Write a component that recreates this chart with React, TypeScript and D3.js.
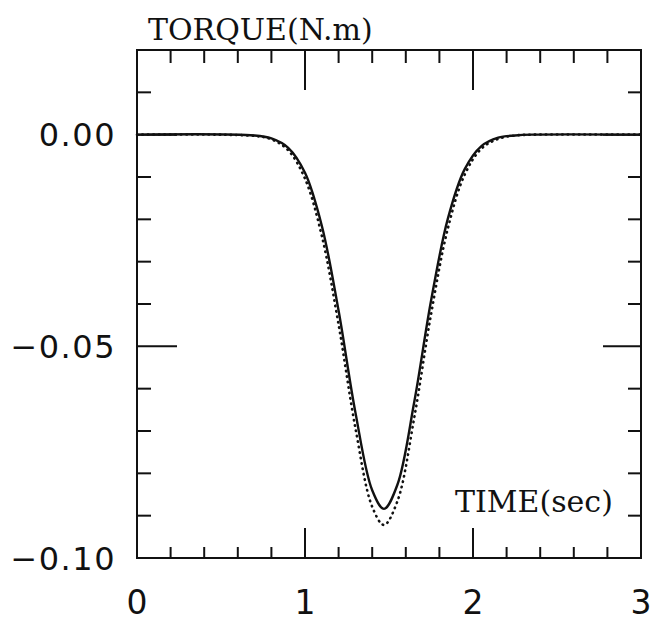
import React from "react";
import * as d3 from "d3";

// Time (sec) sample points
const timeSolid = [0, 0.7, 0.8, 0.9, 1.0, 1.1, 1.2, 1.3, 1.4, 1.47, 1.55, 1.65, 1.75, 1.85, 1.95, 2.05, 2.15, 2.25, 2.35, 3.0];
// Solid curve torque (N.m)
const torqueSolid = [0, -0.0002, -0.0009, -0.0031, -0.0090, -0.0215, -0.0416, -0.0656, -0.0840, -0.0884, -0.0827, -0.0632, -0.0393, -0.0199, -0.0082, -0.0027, -0.0007, -0.0002, 0, 0];
// Dotted curve torque (N.m)
const timeDotted = [0, 0.7, 0.8, 0.9, 1.0, 1.1, 1.2, 1.3, 1.4, 1.47, 1.55, 1.65, 1.75, 1.85, 1.95, 2.05, 2.15, 2.25, 2.35, 3.0];
const torqueDotted = [0, -0.0003, -0.0011, -0.0037, -0.0104, -0.0239, -0.0449, -0.0693, -0.0879, -0.0922, -0.0866, -0.0669, -0.0425, -0.0222, -0.0095, -0.0033, -0.0010, -0.0002, 0, 0];

const xTickLabels = ["0", "1", "2", "3"];
const yTickLabels = ["0.00", "\u22120.05", "\u22120.10"];
const yTickLabelValues = [0, -0.05, -0.1];
const yLabel = "TORQUE(N.m)";
const xLabel = "TIME(sec)";

export default function App() {
  const W = 652, H = 624;
  const left = 137, right = 641, top = 50, bottom = 558;
  const x = d3.scaleLinear().domain([0, 3]).range([left, right]);
  const y = d3.scaleLinear().domain([-0.1, 0.02]).range([bottom, top]);

  const xTicks = d3.range(1, 15).map((i) => i * 0.2);
  const yTicks = d3.range(1, 12).map((i) => 0.02 - i * 0.01);

  const line = d3
    .line<[number, number]>()
    .x((d) => x(d[0]))
    .y((d) => y(d[1]))
    .curve(d3.curveCatmullRom.alpha(0.5));

  const solidPts = timeSolid.map((t, i) => [t, torqueSolid[i]] as [number, number]);
  const dotPts = timeDotted.map((t, i) => [t, torqueDotted[i]] as [number, number]);

  const isMajorX = (v: number) => Math.abs(v - Math.round(v)) < 1e-6;
  const isMajorY = (v: number) => Math.abs(v / 0.05 - Math.round(v / 0.05)) < 1e-6;

  return (
    <svg width={W} height={H} style={{ position: "absolute", left: 0, top: 0, background: "#fff" }}>
      <g stroke="#111" strokeWidth={2} fill="none">
        <rect x={left} y={top} width={right - left} height={bottom - top} />
        {xTicks.map((v, i) => {
          const major = isMajorX(v);
          return (
            <g key={"xt" + i}>
              <line x1={x(v)} x2={x(v)} y1={top} y2={top + (major ? 40 : 13)} />
              <line x1={x(v)} x2={x(v)} y1={bottom} y2={bottom - (major ? 30 : 11)} />
            </g>
          );
        })}
        {yTicks.map((v, i) => {
          const major = isMajorY(v);
          return (
            <g key={"yt" + i}>
              <line x1={left} x2={left + (major ? 40 : 14)} y1={y(v)} y2={y(v)} />
              <line x1={right} x2={right - (major ? 38 : 13)} y1={y(v)} y2={y(v)} />
            </g>
          );
        })}
      </g>
      <path d={line(dotPts) || ""} fill="none" stroke="#111" strokeWidth={2.6} strokeDasharray="0.5 5" strokeLinecap="round" />
      <path d={line(solidPts) || ""} fill="none" stroke="#111" strokeWidth={2.4} />
      <g fontFamily="'DejaVu Sans', sans-serif" fontSize={32} fill="#111" letterSpacing={1.5}>
        {yTickLabelValues.map((v, i) => (
          <text key={"yl" + i} x={116} y={y(v)} dy="0.36em" textAnchor="end">
            {yTickLabels[i]}
          </text>
        ))}
        {xTickLabels.map((l, i) => (
          <text key={"xl" + i} x={x(i)} y={614} textAnchor="middle" fontSize={33} letterSpacing={0}>
            {l}
          </text>
        ))}
      </g>
      <g fontFamily="'DejaVu Serif', serif" fill="#111">
        <text x={148} y={40} fontSize={30}>{yLabel}</text>
        <text x={455} y={512} fontSize={30}>{xLabel}</text>
      </g>
    </svg>
  );
}
